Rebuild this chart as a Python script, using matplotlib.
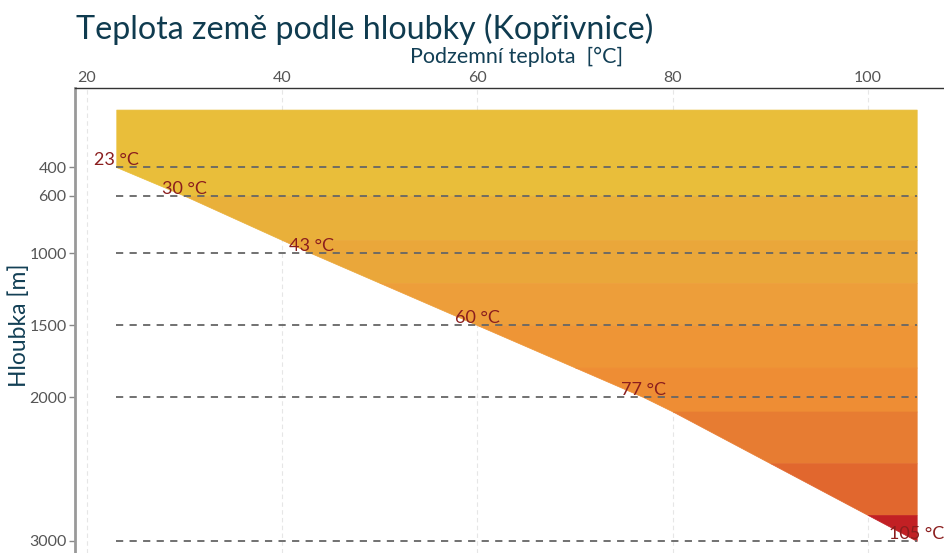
import numpy as np
import matplotlib.pyplot as plt

# temperature profile (depth m -> temperature °C)
depths = [0, 400, 600, 1000, 1500, 2000, 2100, 3000]
temps = [23, 23, 30, 43, 60, 77, 80, 105]

# labelled depths
label_depths = [400, 600, 1000, 1500, 2000, 3000]
label_temps = [23, 30, 43, 60, 77, 105]

# colour bands by temperature
band_edges = [20, 30, 40, 50, 60, 70, 80, 90, 100, 110]
band_colors = ['#E9BE3A', '#E9B03A', '#EAA73A', '#ED9E3A', '#EE9536',
               '#EE8D34', '#E77C32', '#E1672E', '#C22024']

plt.rcParams['font.family'] = ['Lato', 'DejaVu Sans']

fig = plt.figure(figsize=(9.45, 5.53), dpi=100)
ax = fig.add_axes([75/945, 0, 1 - 75/945, 465/553])
ax.set_axisbelow(True)

tmax = max(temps)
dmax = max(depths)
for i, c in enumerate(band_colors):
    ya = 0 if i == 0 else np.interp(band_edges[i], temps[1:], depths[1:])
    yb = np.interp(band_edges[i+1], temps[1:], depths[1:]) if band_edges[i+1] < tmax else dmax
    ys = sorted(set([ya, yb] + [d for d in depths if ya < d < yb]))
    xs = np.interp(ys, depths, temps)
    ax.fill_betweenx(ys, xs, tmax, facecolor=c, edgecolor=c, linewidth=0.5, zorder=1)

for d, t in zip(label_depths, label_temps):
    ax.plot([temps[0], tmax], [d, d], color='#666666', lw=1.3, ls=(0, (4, 3.5)), zorder=2)
    ax.text(t, d + 5, f'{t} °C', ha='center', va='bottom', color='#8B1E1E', fontsize=13, zorder=3)

ax.set_xlim(18.77, 107.9)
ax.set_ylim(3084, -150)
ax.set_xticks([20, 40, 60, 80, 100])
ax.set_yticks(label_depths)
ax.xaxis.tick_top()
ax.xaxis.set_label_position('top')
ax.tick_params(axis='x', length=0, pad=2, labelsize=11.5, labelcolor='#555555')
ax.tick_params(axis='y', length=4, width=1, color='#888888', pad=2, labelsize=11.5, labelcolor='#555555')
ax.grid(axis='x', color='#e6e6e6', ls=(0, (4, 3)), lw=0.8)
for s in ['right', 'bottom']:
    ax.spines[s].set_visible(False)
ax.spines['top'].set_color('#333333')
ax.spines['top'].set_linewidth(1)
ax.spines['left'].set_color('#999999')
ax.spines['left'].set_linewidth(2)

ax.set_xlabel('Podzemní teplota  [°C]', fontsize=15.5, color='#123f55')
ax.xaxis.set_label_coords((517 - 75) / 870, 1.0 + 25/465)
ax.set_ylabel('Hloubka [m]', fontsize=16.5, color='#123f55')
ax.yaxis.set_label_coords(-45/870, (553 - 325) / 465)

fig.text(76/945, 1 - 29/553, 'Teplota země podle hloubky (Kopřivnice)', fontsize=23.2,
         color='#0f3b4f', ha='left', va='center')

fig.savefig('out.png', dpi=100)
